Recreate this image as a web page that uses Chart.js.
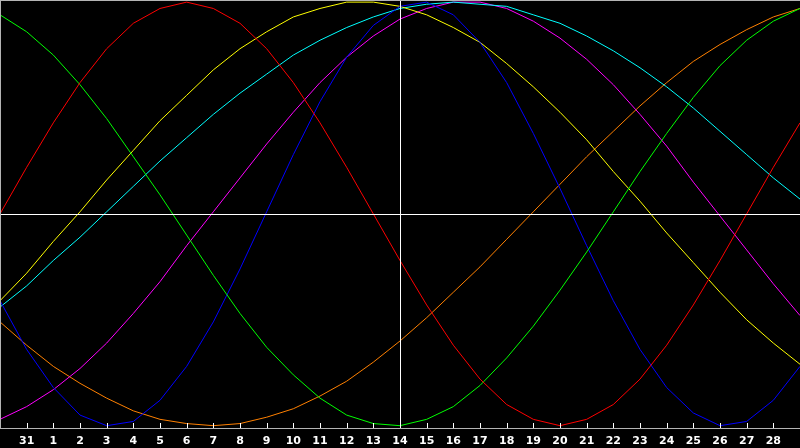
<!DOCTYPE html>
<html>
<head>
<meta charset="utf-8">
<script src="https://cdn.jsdelivr.net/npm/chart.js@4/dist/chart.umd.min.js"></script>
<style>
  html, body { margin: 0; padding: 0; background: #000; }
  canvas { display: block; }
</style>
</head>
<body>
<canvas id="bioChart" width="800" height="448"></canvas>
<script>
// days shown along the bottom (first and last are off-label edges)
const days = ['30', '31', '1', '2', '3', '4', '5', '6', '7', '8', '9', '10', '11', '12', '13', '14',
  '15', '16', '17', '18', '19', '20', '21', '22', '23', '24', '25', '26', '27', '28', '29'];
const todayIndex = 15; // day 14

// cycle values, -100..100, one per day
const physical = [-41, -64, -82, -95, -100, -98, -88, -72, -51, -26, 1, 28, 53, 74, 89, 98,
  100, 94, 81, 62, 38, 12, -15, -41, -64, -82, -94, -100, -98, -88, -72];
const emotional = [0, 22, 43, 62, 78, 90, 97, 100, 97, 90, 78, 62, 43, 22, 0, -22,
  -43, -62, -78, -90, -97, -100, -97, -90, -78, -62, -43, -22, 0, 22, 43];
const intellectual = [94, 86, 75, 61, 45, 27, 9, -10, -29, -47, -63, -76, -87, -95, -99, -100,
  -97, -91, -81, -68, -53, -36, -18, 1, 20, 38, 55, 70, 82, 91, 97];
const intuitive = [-97, -91, -83, -73, -61, -47, -32, -15, 1, 17, 33, 48, 62, 74, 84, 92,
  97, 100, 100, 97, 91, 83, 73, 61, 47, 32, 15, -1, -17, -33, -48];
const aesthetic = [-41, -28, -13, 1, 16, 30, 44, 56, 68, 78, 86, 93, 97, 100, 100, 98,
  94, 88, 81, 71, 60, 48, 35, 20, 6, -9, -23, -37, -50, -61, -71];
const awareness = [-51, -62, -72, -80, -87, -93, -97, -99, -100, -99, -96, -92, -86, -79, -70, -60,
  -49, -37, -25, -12, 1, 14, 27, 39, 51, 62, 72, 80, 87, 93, 97];
const spiritual = [-44, -34, -22, -11, 1, 13, 25, 36, 47, 57, 66, 75, 82, 88, 93, 97,
  99, 100, 99, 98, 94, 90, 84, 77, 69, 60, 50, 39, 28, 17, 7];

const line = (data, color) => ({
  data,
  borderColor: color,
  borderWidth: 1,
  pointRadius: 0,
  tension: 0,
  fill: false
});

// frame, zero line, today line and small ticks on the axis
const frame = {
  id: 'frame',
  afterDatasetsDraw(chart) {
    const { ctx, chartArea, scales } = chart;
    const bottom = Math.round(chartArea.bottom);
    const right = Math.round(chartArea.right);
    ctx.save();
    ctx.fillStyle = '#b4b4b4';
    ctx.fillRect(0, 0, right, 1);
    ctx.fillRect(0, 0, 1, bottom);
    ctx.fillRect(0, bottom, right, 1);
    ctx.fillStyle = '#ffffff';
    const y0 = Math.round(scales.y.getPixelForValue(0));
    ctx.fillRect(1, y0, right, 1);
    const xt = Math.round(scales.x.getPixelForValue(todayIndex));
    ctx.fillRect(xt, 1, 1, bottom - 1);
    for (let i = 1; i < days.length - 1; i++) {
      const x = Math.round(scales.x.getPixelForValue(i));
      ctx.fillRect(x, bottom - 5, 1, 5);
    }
    ctx.restore();
  }
};

new Chart(document.getElementById('bioChart'), {
  type: 'line',
  data: {
    labels: days,
    datasets: [
      line(emotional, '#ff0000'),
      line(intellectual, '#00ff00'),
      line(physical, '#0000ff'),
      line(aesthetic, '#ffff00'),
      line(spiritual, '#00ffff'),
      line(intuitive, '#ff00ff'),
      line(awareness, '#ff8000')
    ]
  },
  options: {
    responsive: false,
    animation: false,
    devicePixelRatio: 1,
    layout: { padding: 0 },
    plugins: {
      legend: { display: false },
      tooltip: { enabled: false }
    },
    scales: {
      x: {
        type: 'category',
        offset: false,
        border: { display: false },
        grid: {
          drawOnChartArea: false,
          drawTicks: true,
          tickLength: 7,
          tickColor: 'rgba(0,0,0,0)'
        },
        ticks: {
          color: '#ffffff',
          font: { family: 'DejaVu Sans', weight: 'bold', size: 11 },
          padding: 0,
          autoSkip: false,
          maxRotation: 0,
          callback: (val, i) => (i === 0 || i === days.length - 1) ? '' : days[i]
        }
      },
      y: {
        display: false,
        min: -101,
        max: 101
      }
    }
  },
  plugins: [frame]
});
</script>
</body>
</html>
